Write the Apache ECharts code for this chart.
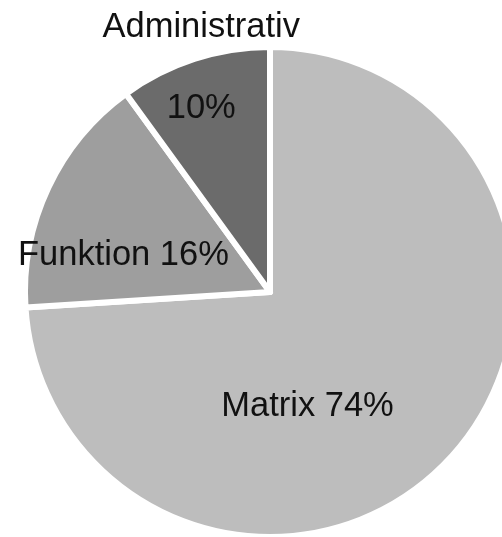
<!DOCTYPE html>
<html>
<head>
<meta charset="utf-8">
<script src="https://cdn.jsdelivr.net/npm/echarts@6/dist/echarts.min.js"></script>
<style>
html,body{margin:0;padding:0;background:#fff;}
#chart{width:502px;height:537px;}
</style>
</head>
<body>
<div id="chart"></div>
<script>
const categories = ['Matrix', 'Funktion', 'Administrativ'];
const values = [74, 16, 10];
const colors = ['#bdbdbd', '#9e9e9e', '#6b6b6b'];
const labelOffsets = [[-54, 29], [-33, 17], [-30, -105]];

const chart = echarts.init(document.getElementById('chart'), null, {renderer: 'canvas'});
const data = categories.map((name, i) => ({
  name: name,
  value: values[i],
  itemStyle: {color: colors[i]},
  label: {offset: labelOffsets[i]}
}));

chart.setOption({
  animation: false,
  backgroundColor: '#ffffff',
  series: [{
    type: 'pie',
    center: [270, 292],
    radius: 245,
    startAngle: 90,
    clockwise: true,
    avoidLabelOverlap: false,
    itemStyle: {borderColor: '#ffffff', borderWidth: 6},
    emphasis: {disabled: true},
    label: {
      show: true,
      position: 'inside',
      fontFamily: 'Liberation Sans, Arial, sans-serif',
      fontSize: 34.5,
      color: '#111111',
      lineHeight: 27,
      formatter: function (p) {
        if (p.name === 'Administrativ') return p.name + '\n\n\n' + p.value + '%';
        return p.name + ' ' + p.value + '%';
      }
    },
    labelLine: {show: false},
    data: data
  }]
});
</script>
</body>
</html>
